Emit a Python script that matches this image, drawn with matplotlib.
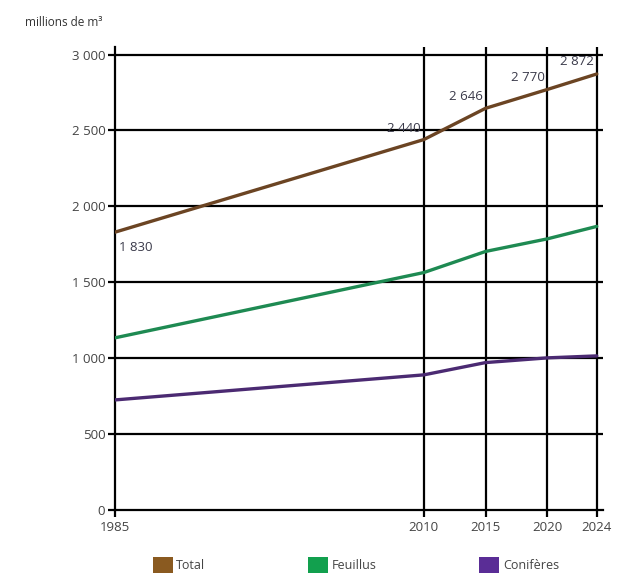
import numpy as np
import matplotlib
matplotlib.use("Agg")
import matplotlib.pyplot as plt
from matplotlib.patches import Patch

# Volume de bois sur pied (millions de m3)
years = [1985, 2010, 2015, 2020, 2024]
total = [1830, 2440, 2646, 2770, 2872]
feuillus = [1134, 1564, 1703, 1786, 1868]
coniferes = [725, 890, 971, 1002, 1015]

series_names = ["Total", "Feuillus", "Conifères"]
line_colors = ["#6b4423", "#1e8a52", "#4b2a72"]
legend_colors = ["#8a5a20", "#12a04e", "#5a2d96"]

yticks = [0, 500, 1000, 1500, 2000, 2500, 3000]
ytick_labels = ["0", "500", "1 000", "1 500", "2 000", "2 500", "3 000"]
total_labels = ["1 830", "2 440", "2 646", "2 770", "2 872"]

plt.rcParams['font.family'] = ['Open Sans', 'DejaVu Sans']

fig = plt.figure(figsize=(6.28, 5.79), dpi=100)
ax = fig.add_axes([0.1831, 0.1192, 0.777, 0.7997])

for vals, col in zip([total, feuillus, coniferes], line_colors):
    ax.plot(years, vals, color=col, lw=2.4, solid_capstyle='round', zorder=3)

ax.set_xlim(1985, 2024.5)
ax.set_ylim(0, 3050)
ax.set_xticks(years)
ax.set_xticklabels([str(y) for y in years])
ax.set_yticks(yticks)
ax.set_yticklabels(ytick_labels)

# grid in black, like the original
for y in yticks[1:]:
    ax.axhline(y, color="black", lw=1.6, zorder=1)
for x in years[1:]:
    ax.axvline(x, color="black", lw=1.6, zorder=1)

for side in ["top", "right"]:
    ax.spines[side].set_visible(False)
for side in ["left", "bottom"]:
    ax.spines[side].set_linewidth(1.6)
ax.tick_params(axis='both', direction='out', length=5, width=1.6,
               labelsize=9.5, labelcolor="#444444", pad=2)
ax.tick_params(axis='x', pad=3)

# data labels for the total
offsets = [(3, -6, 'left', 'top'), (-2, 3, 'right', 'bottom'),
           (-2, 4, 'right', 'bottom'), (-2, 4, 'right', 'bottom'),
           (-2, 4, 'right', 'bottom')]
for x, v, lab, (dx, dy, ha, va) in zip(years, total, total_labels, offsets):
    ax.annotate(lab, (x, v), xytext=(dx, dy), textcoords='offset points',
                ha=ha, va=va, fontsize=9.5, color="#3a3a4a", zorder=4)

fig.text(0.04, 0.962, "millions de m³", fontsize=8.5, color="#333333",
         ha='left', va='center')

handles = [Patch(facecolor=c, edgecolor='none') for c in legend_colors]
fig.legend(handles, series_names, loc='center left', ncol=3,
           bbox_to_anchor=(0.225, 0.024), frameon=False, fontsize=9,
           handlelength=1.6, handleheight=1.6, handletextpad=0.3,
           columnspacing=8.2, labelcolor="#444444")

fig.savefig("out.png", dpi=100)
